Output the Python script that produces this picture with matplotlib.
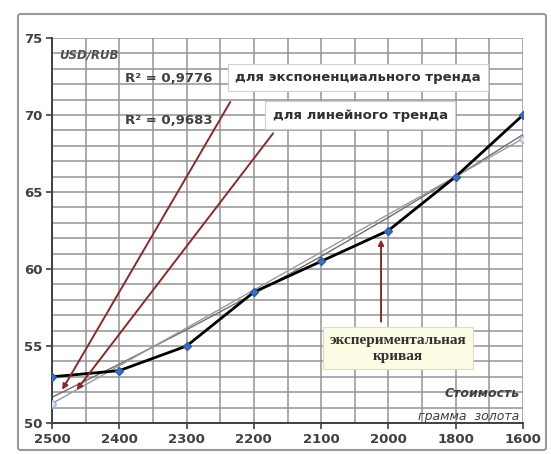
import matplotlib.pyplot as plt
import matplotlib.patches as patches
import numpy as np

# ---- Data ----
gold_price = ["2500", "2400", "2300", "2200", "2100", "2000", "1800", "1600"]
usd_rub = [53.0, 53.4, 55.0, 58.5, 60.5, 62.5, 66.0, 70.0]
r2_exp = "0,9776"
r2_lin = "0,9683"

x = np.arange(len(gold_price))
y = np.array(usd_rub)

# trend lines (same as the spreadsheet trendlines)
k, b = np.polyfit(x, y, 1)
lin_trend = k * x + b
ke, be = np.polyfit(x, np.log(y), 1)
exp_trend = np.exp(be) * np.exp(ke * x)

fig = plt.figure(figsize=(5.51, 4.54), dpi=100)
ax = fig.add_axes([52 / 551, 1 - 423 / 454, 471 / 551, 385 / 454])

# outer chart frame
fig.patches.append(patches.FancyBboxPatch((18 / 551, 1 - 450 / 454), 528 / 551, 436 / 454,
                                          boxstyle="round,pad=0,rounding_size=0.005",
                                          transform=fig.transFigure, fill=False,
                                          edgecolor="#9a9a9a", linewidth=1.5))

ax.set_xlim(0, len(x) - 1)
ax.set_ylim(50, 75)

# grid: every unit on y, every half category on x
for yy in np.arange(50, 76, 1):
    ax.axhline(yy, color="#939393", lw=1.1, zorder=0)
for xx in np.arange(0, len(x) - 0.5, 0.5):
    ax.axvline(xx, color="#939393", lw=1.1, zorder=0)

ax.plot(x, exp_trend, color="#6e6e6e", lw=1.0, zorder=2)
ax.plot(x, lin_trend, color="#9a9a9a", lw=1.0, zorder=2)
ax.plot([x[0], x[-1]], [lin_trend[0], lin_trend[-1]], ls="none", marker="D", ms=4.5,
        mfc="#dbe6f4", mec="#9fb4cf", zorder=3)

ax.plot(x, y, color="black", lw=2.0, marker="D", ms=4.5, mfc="#3b6fc2", mec="#2f5ea8", zorder=4)

ax.set_xticks(x)
ax.set_xticklabels(gold_price)
ax.set_yticks(np.arange(50, 76, 5))
for lbl in ax.get_xticklabels() + ax.get_yticklabels():
    lbl.set_fontweight("bold")
    lbl.set_color("#404040")
    lbl.set_fontsize(9.5)
ax.tick_params(axis="both", length=4, width=1.2, color="#404040", direction="out", pad=3)
for s in ["left", "bottom"]:
    ax.spines[s].set_color("#404040")
    ax.spines[s].set_linewidth(1.4)
for s in ["top", "right"]:
    ax.spines[s].set_visible(False)

# labels
ax.text(0.1, 73.9, "USD/RUB", style="italic", fontweight="bold", fontsize=8.5,
        color="#505050", va="center")
ax.text(6.95, 51.9, "Стоимость", style="italic", fontweight="bold", fontsize=9,
        color="#404040", ha="right", va="center")
ax.text(6.95, 50.4, "грамма  золота", style="italic", fontsize=9,
        color="#404040", ha="right", va="center")

ax.text(1.08, 72.4, "R² = " + r2_exp, fontweight="bold", fontsize=9.5, color="#404040", va="center")
ax.text(1.08, 69.65, "R² = " + r2_lin, fontweight="bold", fontsize=9.5, color="#404040", va="center")

arrow = dict(arrowstyle="-|>", color="#8b2a2a", lw=1.4, mutation_scale=8)
box = dict(boxstyle="square,pad=0.55", fc="white", ec="#d0d0d0", lw=0.8)

ax.annotate("", xy=(0.13, 52.0), xytext=(2.67, 71.0), arrowprops=arrow, zorder=5)
ax.annotate("", xy=(0.34, 52.0), xytext=(3.31, 68.95), arrowprops=arrow, zorder=5)
ax.text(4.55, 72.45, "для экспоненциального тренда", fontweight="bold", fontsize=9.5,
        color="#303030", ha="center", va="center", bbox=box, zorder=6)
ax.text(4.58, 70.0, "для линейного тренда", fontweight="bold", fontsize=9.5,
        color="#303030", ha="center", va="center", bbox=box, zorder=6)

ax.annotate("", xy=(4.89, 62.1), xytext=(4.89, 56.4), arrowprops=arrow, zorder=5)
ax.text(5.14, 54.85, "экспериментальная\nкривая", fontweight="bold", fontsize=11,
        family="Liberation Serif", color="#303030", ha="center", va="center",
        linespacing=1.25,
        bbox=dict(boxstyle="square,pad=0.45", fc="#fcfbe3", ec="#e0dcc0", lw=0.8), zorder=6)

fig.savefig("out.png", dpi=100)
